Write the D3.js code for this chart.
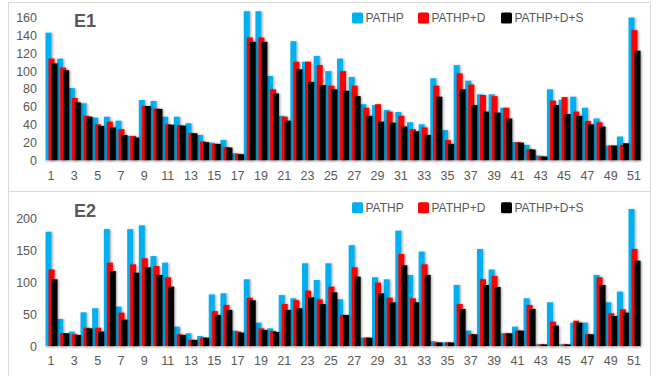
<!DOCTYPE html>
<html>
<head>
<meta charset="utf-8">
<script src="https://cdn.jsdelivr.net/npm/d3@7"></script>
<style>
  body { margin: 0; background: #fff; }
  svg { display: block; font-family: "Liberation Sans", Arial, sans-serif; }
</style>
</head>
<body>
<svg id="chart" width="656" height="376"></svg>
<script>
// categories 1..51
var categories = d3.range(1, 52);
var seriesNames = ["PATHP", "PATHP+D", "PATHP+D+S"];
var seriesColors = ["#00B0F0", "#FF0000", "#000000"];

// E1 panel
var e1Pathp = [143, 114, 81, 64, 48, 49, 44.6, 27.5, 67.7, 66.6, 49, 49, 41.7, 28.6, 20, 23, 8, 167, 167, 94.5,
  50, 133.5, 110.5, 117, 100, 114, 93.4, 63, 62, 56.5, 54.3, 42.8, 40.5, 92, 34, 106.8, 89.3, 74, 74, 59,
  20.5, 17.5, 5.6, 79.6, 68, 71.4, 59, 47, 16.7, 26.8, 160];
var e1PathpD = [114, 104, 70, 50, 40.5, 43.5, 35, 27.5, 61, 58, 40.5, 39.4, 30.5, 21.2, 18.6, 15, 7.5, 137.6, 137.6, 79.6,
  49, 110.5, 110.5, 106.8, 83.7, 100, 83.7, 59, 63, 54.7, 50, 35, 37, 83.7, 23, 97.5, 85, 73.3, 72, 59,
  20.5, 12.6, 4.5, 67, 71, 54.7, 44.3, 42.8, 16.7, 17.5, 145.8];
var e1PathpDS = [108.6, 101, 65, 49, 38.7, 37, 28.6, 25.7, 61, 57.7, 40, 39, 30.5, 20.5, 18.6, 14.5, 7, 132.8, 132.8, 75,
  44.6, 102, 88, 84.4, 79.6, 78, 72, 50, 43.5, 42.4, 38, 32.7, 28.6, 71.4, 18.6, 79.6, 62, 54.7, 53.6, 47,
  20, 12.3, 4.5, 62, 52, 50, 40.5, 38, 16.7, 19.3, 122.8];

// E2 panel
var e2Pathp = [179, 42.7, 23, 53, 59.4, 183, 62, 183, 189, 141, 130.7, 30.7, 20.3, 16, 81, 82.8, 24.5, 104.7, 37, 28,
  80, 75, 129.7, 103.6, 129.7, 73.4, 158, 13.5, 107.8, 104.7, 180.7, 111.5, 148, 8, 6.3, 95.8, 24.5, 152, 120, 20.3,
  30.7, 75, 3, 68.7, 3, 37, 37, 111.5, 68.7, 85.4, 214.6];
var e2PathpD = [120, 20.3, 18.8, 29, 29, 130.7, 52.6, 128, 137.5, 125.5, 107.8, 18.8, 10, 13.5, 55, 64.6, 23, 76, 28, 24,
  66, 72, 87, 73.4, 93.2, 49, 123.4, 13.5, 99.5, 76, 144.3, 75, 128, 6, 6, 66, 18.8, 104.7, 110, 20.3,
  24.5, 64.6, 3, 38.5, 3, 40, 18.8, 107.8, 51.6, 57.8, 152];
var e2PathpDS = [104.7, 20.3, 17.7, 28, 23, 117.7, 41.7, 115, 123.4, 111.5, 93.2, 17.7, 10, 13.5, 49, 56.8, 21.4, 71.9, 25.5, 22.4,
  56.8, 59.4, 76.6, 66, 84.4, 49, 108.8, 13.5, 82.8, 68.7, 126.6, 68.7, 111.5, 6, 6, 58.3, 18.8, 95.8, 92.7, 20.3,
  24.5, 58.3, 3, 32.3, 3, 37, 18.8, 95.8, 47.4, 52.6, 133.8];

var e1Ticks = [0, 20, 40, 60, 80, 100, 120, 140, 160];
var e2Ticks = [0, 50, 100, 150, 200];

var textColor = "#595959",
    frameColor = "#D9D9D9";

var svg = d3.select("#chart");

// soft shadow like the excel bars
var defs = svg.append("defs");
var shadow = defs.append("filter").attr("id", "shadow")
    .attr("x", "-50%").attr("y", "-10%").attr("width", "200%").attr("height", "120%");
shadow.append("feDropShadow")
    .attr("dx", 1.2).attr("dy", 0.5).attr("stdDeviation", 0.9)
    .attr("flood-color", "#000").attr("flood-opacity", 0.35);

// frame
svg.append("rect")
    .attr("x", 8.5).attr("y", 2.5).attr("width", 642).attr("height", 400)
    .attr("fill", "none").attr("stroke", frameColor);
svg.append("line")
    .attr("x1", 8.5).attr("x2", 650.5).attr("y1", 191.5).attr("y2", 191.5)
    .attr("stroke", frameColor);

var x = d3.scaleBand()
    .domain(categories)
    .range([45.2, 45.2 + 51 * 11.66])
    .padding(0);

var xSeries = d3.scalePoint()
    .domain(seriesNames)
    .range([-5.5, 0.5]);

var barWidth = 6;

function panel(cfg) {
    var y = d3.scaleLinear().domain(cfg.domain).range(cfg.range);
    var g = svg.append("g");

    // y tick labels
    g.selectAll(".ytick").data(cfg.ticks).enter()
        .append("text")
        .attr("x", 37)
        .attr("y", d => y(d))
        .attr("dy", "0.35em")
        .attr("text-anchor", "end")
        .attr("font-size", 12.5)
        .attr("fill", textColor)
        .text(d => d);

    // bars
    var series = seriesNames.map((name, i) => ({name: name, color: seriesColors[i], values: cfg.values[i]}));
    var sg = g.selectAll(".series").data(series).enter()
        .append("g")
        .attr("fill", d => d.color)
        .attr("filter", "url(#shadow)");
    sg.selectAll("rect")
        .data(s => s.values.map((v, j) => ({name: s.name, cat: categories[j], value: v})))
        .enter()
        .append("rect")
        .attr("x", d => x(d.cat) + x.bandwidth() / 2 + xSeries(d.name))
        .attr("width", barWidth)
        .attr("y", d => y(d.value))
        .attr("height", d => y(0) - y(d.value));

    // baseline
    g.append("line")
        .attr("x1", x.range()[0]).attr("x2", x.range()[1])
        .attr("y1", y(0) + 0.5).attr("y2", y(0) + 0.5)
        .attr("stroke", frameColor);

    // x labels (odd categories)
    g.selectAll(".xtick").data(categories.filter(c => c % 2 === 1)).enter()
        .append("text")
        .attr("x", d => x(d) + x.bandwidth() / 2)
        .attr("y", cfg.labelY)
        .attr("text-anchor", "middle")
        .attr("font-size", 12.5)
        .attr("fill", textColor)
        .text(d => d);

    // title
    g.append("text")
        .attr("x", 74)
        .attr("y", cfg.titleY)
        .attr("font-size", 18)
        .attr("font-weight", "bold")
        .attr("fill", textColor)
        .text(cfg.title);

    // legend
    var legX = [352, 418, 501];
    var lg = g.selectAll(".leg").data(series).enter()
        .append("g")
        .attr("transform", (d, i) => "translate(" + legX[i] + "," + cfg.legendY + ")");
    lg.append("rect")
        .attr("x", 0).attr("y", -5.5)
        .attr("width", 11).attr("height", 11)
        .attr("rx", 1.5)
        .attr("fill", d => d.color);
    lg.append("text")
        .attr("x", 13.5)
        .attr("y", 0)
        .attr("dy", "0.35em")
        .attr("font-size", 12)
        .attr("fill", textColor)
        .text(d => d.name);
}

panel({
    title: "E1",
    domain: [0, 160],
    range: [160.5, 17.5],
    ticks: e1Ticks,
    values: [e1Pathp, e1PathpD, e1PathpDS],
    labelY: 179.5,
    titleY: 27,
    legendY: 18
});

panel({
    title: "E2",
    domain: [0, 200],
    range: [346.3, 218.3],
    ticks: e2Ticks,
    values: [e2Pathp, e2PathpD, e2PathpDS],
    labelY: 365,
    titleY: 217,
    legendY: 207.7
});
</script>
</body>
</html>
